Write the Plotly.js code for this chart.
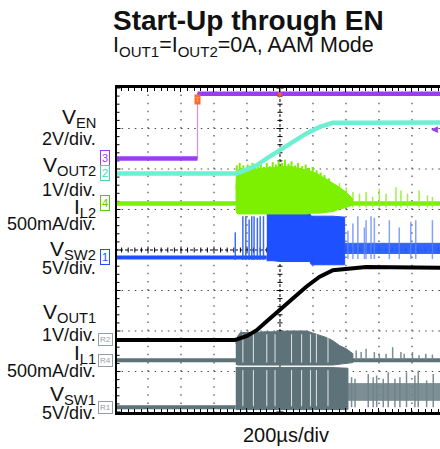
<!DOCTYPE html>
<html><head><meta charset="utf-8">
<script src="https://cdn.plot.ly/plotly-3.0.1.min.js"></script>
<style>html,body{margin:0;padding:0;background:#fff;overflow:hidden}#chart{width:440px;height:449px}</style>
</head><body><div id="chart"></div>
<script>
// ================= DATA =================
// time in µs, 200 µs/div, trigger at t = 0
const timeRangeUs = [-1000, 970];

// V_EN (V)
const enT = [-1000, -500, -500, 970];
const enV = [0, 0, 3.2, 3.2];

// V_OUT2 (V)
const vout2T = [-1000, -261, -200, -141, -80, 0, 80, 161, 241, 321, 522, 970];
const vout2V = [0, 0, 0.10, 0.20, 0.37, 0.58, 0.78, 0.99, 1.15, 1.25, 1.25, 1.26];

// I_L2 (A): baseline, dense switching envelope, peaks on top of it, isolated pulses after the burst
const il2BaseT = [-1000, 970];
const il2BaseA = [0, 0];
const il2BurstT  = [-268, -262, -250, -230, -200, -160, -120, -60, 0, 40, 80, 120, 160, 200, 240, 280, 320, 360, 400, 440];
const il2BurstHi = [0.18, 0.34, 0.42, 0.41, 0.42, 0.42, 0.43, 0.44, 0.45, 0.46, 0.45, 0.43, 0.41, 0.39, 0.35, 0.30, 0.26, 0.20, 0.14, 0.06];
const il2BurstLo = [-0.05, -0.12, -0.13, -0.13, -0.13, -0.13, -0.13, -0.13, -0.13, -0.13, -0.13, -0.13, -0.13, -0.12, -0.12, -0.11, -0.10, -0.07, -0.05, -0.02];
const il2PeakT = [-262, -255, -244, -236, -222, -210, -196, -180, -166, -150, -132, -116, -98, -80, -62, -44, -24, -8, 12, 30, 52, 70, 92, 110, 134, 156, 176, 198, 222, 246, 270, 296];
const il2PeakA = [0.47, 0.40, 0.50, 0.44, 0.47, 0.42, 0.48, 0.45, 0.50, 0.44, 0.47, 0.49, 0.45, 0.50, 0.46, 0.51, 0.48, 0.53, 0.50, 0.54, 0.49, 0.52, 0.47, 0.50, 0.46, 0.48, 0.44, 0.45, 0.41, 0.38, 0.35, 0.31];
const il2SpikeT = [361, 402, 442, 482, 522, 562, 602, 643, 703, 733, 773, 843, 894, 924];
const il2SpikeA = [0.25, 0.20, 0.14, 0.12, 0.14, 0.08, 0.18, 0.12, 0.20, 0.16, 0.12, 0.16, 0.10, 0.08];

// V_SW2 (V)
const vsw2BaseT = [-1000, -80];
const vsw2BaseV = [0, 0];
const vsw2BurstT  = [-80, -40, 0, 60, 120, 180, 191, 260, 320, 380, 392];
const vsw2BurstHi = [5.4, 5.4, 5.4, 5.4, 5.4, 5.4, 5.1, 5.1, 5.1, 5.0, 5.0];
const vsw2BurstLo = [-0.4, -0.4, -0.5, -0.5, -0.5, -0.5, -0.9, -0.9, -0.9, -0.9, -0.9];
const vsw2TailT  = [392, 970];
const vsw2TailHi = [1.75, 1.75];
const vsw2TailLo = [0.5, 0.5];
const vsw2PreSpikeT = [-271, -225, -207, -187, -171, -157, -137, -120, -100];
const vsw2PreSpikeV = [3.1, 5.1, 5.1, 4.7, 5.1, 5.1, 4.9, 5.1, 5.1];
const vsw2PostSpikeT = [412, 442, 472, 512, 522, 552, 572, 663, 723, 793, 823, 924];
const vsw2PostSpikeV = [3.3, 4.2, 5.1, 3.7, 4.6, 5.1, 4.9, 4.6, 3.7, 4.4, 4.6, 4.6];

// V_OUT1 (V)
const vout1T = [-1000, -271, -200, -141, -80, 0, 80, 161, 241, 321, 522, 970];
const vout1V = [0, 0, 0.10, 0.24, 0.46, 0.74, 1.03, 1.32, 1.56, 1.72, 1.80, 1.78];

// I_L1 (A)
const il1BaseT = [-1000, 970];
const il1BaseA = [0, 0];
const il1BurstT  = [-268, -255, -240, -200, -161, -100, 0, 40, 100, 161, 221, 281, 321, 361, 402, 442];
const il1BurstHi = [0.20, 0.30, 0.34, 0.34, 0.34, 0.35, 0.35, 0.36, 0.36, 0.36, 0.32, 0.28, 0.24, 0.18, 0.14, 0.08];
const il1BurstLo = [-0.05, -0.06, -0.06, -0.06, -0.06, -0.06, -0.06, -0.06, -0.06, -0.06, -0.06, -0.06, -0.06, -0.05, -0.04, -0.03];
const il1SpikeT = [462, 492, 522, 572, 602, 643, 683, 733, 753, 803, 843, 884, 924];
const il1SpikeA = [0.12, 0.10, 0.14, 0.10, 0.08, 0.08, 0.16, 0.10, 0.08, 0.10, 0.06, 0.08, 0.07];

// V_SW1 (V)
const vsw1BaseT = [-1000, -268];
const vsw1BaseV = [0, 0];
const vsw1BurstT  = [-268, -250, -150, 0, 150, 300, 412];
const vsw1BurstHi = [4.9, 4.9, 4.9, 4.9, 4.9, 4.9, 4.8];
const vsw1BurstLo = [-0.3, -0.3, -0.3, -0.3, -0.3, -0.3, -0.3];
const vsw1TailT  = [412, 970];
const vsw1TailHi = [2.9, 2.9];
const vsw1TailLo = [0.85, 0.85];
const vsw1SpikeT = [434, 455, 535, 565, 586, 626, 656, 697, 727, 767, 818, 838, 889, 929];
const vsw1SpikeV = [3.7, 3.5, 4.1, 3.7, 3.9, 3.5, 4.3, 3.5, 3.7, 4.3, 3.9, 4.5, 3.3, 4.1];

// pauses in switching (white gaps through the grey bursts)
const gapT = [-225, -161, -80, -30, 70, 131, 185, 221, 291];

// text
const titleText = 'Start-Up through EN';
const subtitleText = 'I<sub>OUT1</sub>=I<sub>OUT2</sub>=0A, AAM Mode';
const xTitleText = '200µs/div';
const labelTexts = ['V<sub>EN</sub>', '2V/div.', 'V<sub>OUT2</sub>', '1V/div.', 'I<sub>L2</sub>', '500mA/div.',
                    'V<sub>SW2</sub>', '5V/div.', 'V<sub>OUT1</sub>', '1V/div.', 'I<sub>L1</sub>', '500mA/div.',
                    'V<sub>SW1</sub>', '5V/div.'];
const markerTexts = ['3', '2', '4', '1', 'R2', 'R4', 'R1'];

// ================= STYLE / LAYOUT =================
const FONT = 'Arial, "Liberation Sans", Helvetica, sans-serif';
const W = 440, H = 449, ML = 115, MR = 0, MT = 88, MB = 37;
const PW = W - ML - MR, PH = H - MT - MB;
const px2paperX = px => (px - ML) / PW;
const px2paperY = py => (H - MB - py) / PH;
const DIV_T = 200, NDIV_Y = 8, SUB = 5;    // vertical axis unit = 1/5 division
const YHALF = NDIV_Y / 2 * SUB;

// scope channels: scale (units/div) and ground position (divisions from screen centre)
const ch = {
  en:    {scale: 2,   offset: 2.26,   color: '#9b3cf2'},
  vout2: {scale: 1,   offset: 1.89,   color: '#6eefd4'},
  il2:   {scale: 0.5, offset: 1.15,   color: '#7cf000'},
  vsw2:  {scale: 5,   offset: -0.185, color: '#1f50ff'},
  vout1: {scale: 1,   offset: -2.22,  color: '#000000'},
  il1:   {scale: 0.5, offset: -2.72,  color: '#5d7279'},
  vsw1:  {scale: 5,   offset: -3.88,  color: '#5d7279'}
};
const chOrder = ['en', 'vout2', 'il2', 'vsw2', 'vout1', 'il1', 'vsw1'];
const markerColors = ['#9b3cf2', '#3fd6b0', '#5ccc00', '#1f50ff', '#8fa0a5', '#8fa0a5', '#8fa0a5'];

// physical value -> screen position (what the scope does with units/div and position)
const toScreen = (c, arr) => arr.map(v => v == null ? null : (ch[c].offset + v / ch[c].scale) * SUB);

function line(c, x, y, width, color, opacity) {
  return {type: 'scatter', mode: 'lines', x: x, y: toScreen(c, y), hoverinfo: 'skip', showlegend: false,
          opacity: opacity == null ? 1 : opacity,
          line: {color: color || ch[c].color, width: width}, connectgaps: false};
}
function band(c, t, hi, lo, color, opacity) {
  const x = t.concat(t.slice().reverse());
  const y = hi.concat(lo.slice().reverse());
  return {type: 'scatter', mode: 'lines', x: x, y: toScreen(c, y), fill: 'toself', fillcolor: color || ch[c].color,
          hoverinfo: 'skip', showlegend: false, opacity: opacity == null ? 1 : opacity,
          line: {color: color || ch[c].color, width: 1}};
}
function spikes(c, t, tops, base, width, color, opacity) {
  const x = [], y = [];
  t.forEach((tt, i) => { x.push(tt, tt, null); y.push(base, tops[i], null); });
  return line(c, x, y, width, color, opacity);
}
function gaps(c, t, lo, hi) {
  return spikes(c, t, t.map(() => hi), lo, 1.1, '#ffffff', 0.75);
}
function stepSplit(t, v) {            // horizontal parts only (vertical edge drawn thin)
  const x = [], y = [];
  for (let i = 0; i < t.length; i++) {
    x.push(t[i]); y.push(v[i]);
    if (i < t.length - 1 && t[i] === t[i + 1]) { x.push(null); y.push(null); }
  }
  return {x: x, y: y};
}

const enSplit = stepSplit(enT, enV);
const traces = [
  // V_SW1
  line('vsw1', vsw1BaseT, vsw1BaseV, 4),
  band('vsw1', vsw1TailT, vsw1TailHi, vsw1TailLo, '#6f8389', 0.9),
  spikes('vsw1', vsw1SpikeT, vsw1SpikeV, 0, 1.5, '#6f8389', 0.9),
  band('vsw1', vsw1BurstT, vsw1BurstHi, vsw1BurstLo),
  gaps('vsw1', gapT, 0.1, 4.6),
  // I_L1
  line('il1', il1BaseT, il1BaseA, 4),
  spikes('il1', il1SpikeT, il1SpikeA, 0, 1.5, '#6f8389', 0.9),
  band('il1', il1BurstT, il1BurstHi, il1BurstLo),
  gaps('il1', gapT, -0.03, 0.32),
  // V_OUT1
  line('vout1', vout1T, vout1V, 4),
  // V_SW2
  line('vsw2', vsw2BaseT, vsw2BaseV, 4),
  band('vsw2', vsw2TailT, vsw2TailHi, vsw2TailLo, '#2a5cff', 0.95),
  spikes('vsw2', vsw2PreSpikeT, vsw2PreSpikeV, -0.3, 1.5, '#2a5cff', 0.9),
  spikes('vsw2', vsw2PostSpikeT, vsw2PostSpikeV, -0.2, 1.5, '#5c84ff', 0.75),
  band('vsw2', vsw2BurstT, vsw2BurstHi, vsw2BurstLo),
  // I_L2
  line('il2', il2BaseT, il2BaseA, 4.5),
  spikes('il2', il2SpikeT, il2SpikeA, -0.05, 1.5, '#8ef020', 0.85),
  band('il2', il2BurstT, il2BurstHi, il2BurstLo),
  spikes('il2', il2PeakT, il2PeakA, 0, 2, '#7cf000'),
  // V_OUT2
  line('vout2', vout2T, vout2V, 4.5),
  // V_EN
  line('en', enT, enV, 1.2, '#c890ff'),
  line('en', enSplit.x, enSplit.y, 4.5)
];

// ---- graticule (dotted grid, left frame, centre cross-hair with 1/5-div ticks) ----
const shapes = [];
const GRID = {color: '#4a4a4a', width: 1.2};
for (let t = timeRangeUs[0] + DIV_T; t < timeRangeUs[1]; t += DIV_T) {
  if (t === 0) continue;
  shapes.push({type: 'line', layer: 'between', xref: 'x', yref: 'y', x0: t, x1: t, y0: -YHALF, y1: YHALF,
               line: {color: GRID.color, width: GRID.width, dash: '1.5px,6.6px'}});
}
for (let k = -YHALF + SUB; k < YHALF; k += SUB) {
  if (k === 0) continue;
  shapes.push({type: 'line', layer: 'between', xref: 'x', yref: 'y', x0: timeRangeUs[0], x1: timeRangeUs[1], y0: k, y1: k,
               line: {color: GRID.color, width: GRID.width, dash: '1.5px,5.1px'}});
}
shapes.push(
  {type: 'line', xref: 'x', yref: 'y', x0: 0, x1: 0, y0: -YHALF, y1: YHALF, layer: 'between',
   line: {color: '#000', width: 1, dash: '3px,2px'}},
  {type: 'line', xref: 'x', yref: 'y', x0: timeRangeUs[0], x1: timeRangeUs[1], y0: 0, y1: 0, layer: 'between',
   line: {color: '#000', width: 1, dash: '3px,2px'}},
  // left frame of the screen
  {type: 'rect', xref: 'x', yref: 'y', xsizemode: 'pixel', xanchor: timeRangeUs[0], x0: -2, x1: 2,
   y0: -YHALF, y1: YHALF, layer: 'above', fillcolor: '#000', line: {width: 0}}
);
for (let k = -YHALF; k <= YHALF; k++) {
  const L = (k % SUB === 0) ? 3.5 : 2.5;
  shapes.push({type: 'line', layer: 'between', xref: 'x', xsizemode: 'pixel', xanchor: 0, x0: -L, x1: L,
               yref: 'y', y0: k, y1: k, line: {color: '#000', width: 1}});
  shapes.push({type: 'line', layer: 'between', xref: 'x', xsizemode: 'pixel', xanchor: timeRangeUs[0], x0: 0, x1: L + 2,
               yref: 'y', y0: k, y1: k, line: {color: '#000', width: 1}});
}
for (let t = timeRangeUs[0]; t <= timeRangeUs[1]; t += DIV_T / 5) {
  const L = (Math.round(t) % DIV_T === 0) ? 3.5 : 2.5;
  shapes.push({type: 'line', layer: 'between', yref: 'y', ysizemode: 'pixel', yanchor: 0, y0: -L, y1: L,
               xref: 'x', x0: t, x1: t, line: {color: '#000', width: 1}});
}

const layout = {
  width: W, height: H,
  margin: {l: ML, r: MR, t: MT, b: MB, pad: 0},
  paper_bgcolor: '#ffffff', plot_bgcolor: 'rgba(0,0,0,0)',
  font: {family: FONT, color: '#111'},
  showlegend: false,
  xaxis: {range: timeRangeUs, tick0: -1000, dtick: DIV_T, showgrid: false, zeroline: false, showticklabels: false,
          ticks: 'inside', ticklen: 4, tickcolor: '#000', tickwidth: 1,
          minor: {tick0: -1000, dtick: DIV_T / 5, ticks: 'inside', ticklen: 3, tickcolor: '#000', showgrid: false},
          showline: true, linecolor: '#000', linewidth: 3, mirror: 'allticks', fixedrange: true},
  yaxis: {range: [-YHALF, YHALF], visible: false, fixedrange: true},
  shapes: shapes,
  annotations: []
};

// titles
layout.annotations.push(
  {text: '<b>' + titleText + '</b>', xref: 'paper', yref: 'paper', x: px2paperX(111), y: px2paperY(21),
   xanchor: 'left', yanchor: 'middle', showarrow: false, font: {family: FONT, size: 28, color: '#111'}},
  {text: subtitleText, xref: 'paper', yref: 'paper', x: px2paperX(111), y: px2paperY(46),
   xanchor: 'left', yanchor: 'middle', showarrow: false, font: {family: FONT, size: 21.5, color: '#111'}},
  {text: xTitleText, xref: 'paper', yref: 'paper', x: px2paperX(285.5), y: px2paperY(435),
   xanchor: 'center', yanchor: 'middle', showarrow: false, font: {family: FONT, size: 20, color: '#111'}}
);

// left labels
const labelYpx = [118, 139, 166, 190, 208, 224, 250, 268, 313, 335, 354, 371, 395, 413];
labelTexts.forEach((t, i) => {
  const isName = i % 2 === 0;
  layout.annotations.push({text: t, xref: 'paper', yref: 'paper', x: px2paperX(97), y: px2paperY(labelYpx[i]),
    xanchor: 'right', yanchor: 'middle', showarrow: false, borderpad: 0,
    font: {family: FONT, size: isName ? 21 : 18, color: '#111'}});
});

// channel ground markers
markerTexts.forEach((t, i) => {
  const c = chOrder[i];
  layout.annotations.push({text: t, xref: 'paper', yref: 'y', x: px2paperX(105), y: toScreen(c, [0])[0],
    xanchor: 'center', yanchor: 'middle', showarrow: false, bgcolor: '#ffffff',
    bordercolor: markerColors[i], borderwidth: 1, borderpad: 1,
    font: {family: FONT, size: t.length > 1 ? 8 : 11, color: markerColors[i]}});
});

// trigger markers
layout.annotations.push(
  {text: '▼', xref: 'x', yref: 'paper', x: 0, y: 1, xanchor: 'center', yanchor: 'top', showarrow: false,
   font: {size: 9, color: '#ff5a1a'}},
  {text: 'T', xref: 'x', yref: 'y', x: enT[1], y: toScreen('en', [enV[2]])[0], xanchor: 'center', yanchor: 'top', showarrow: false,
   bgcolor: '#ff6a2a', borderpad: 0, font: {size: 8, color: '#ffb08a'}},
  {text: '◀', xref: 'paper', yref: 'paper', x: 1, y: px2paperY(129), xanchor: 'right', yanchor: 'middle', showarrow: false,
   font: {size: 9, color: '#9b3cf2'}}
);

Plotly.newPlot('chart', traces, layout, {staticPlot: true, displayModeBar: false});
</script>
</body></html>
